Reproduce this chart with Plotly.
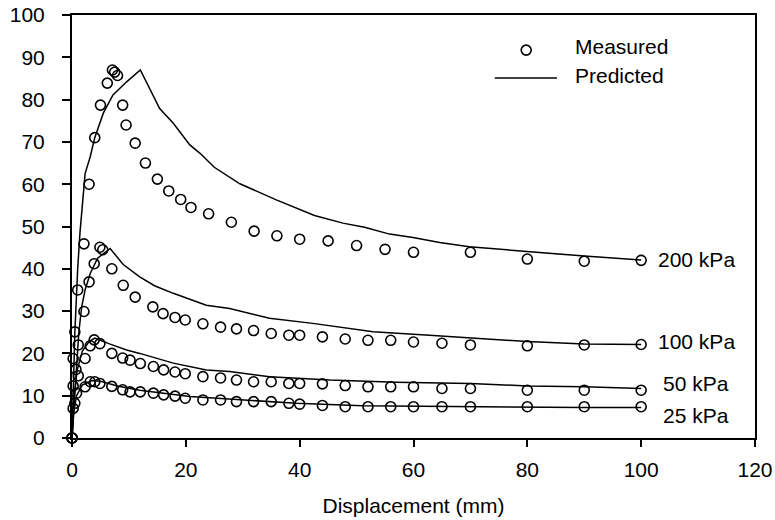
import plotly.graph_objects as go

# ---------------- data ----------------
labels = ["200 kPa", "100 kPa", "50 kPa", "25 kPa"]

m200_x = [0, 0.5, 1.0, 2.1, 3.0, 4.0, 5.0, 6.2, 7.1, 7.5, 8.0, 8.9, 9.5, 11.1, 12.9, 15.0, 17.0, 19.1,
          20.9, 24.0, 28.0, 32.0, 36.0, 40.0, 45.0, 50.0, 55.0, 60.0, 70.0, 80.0, 90.0, 100.0]
m200_y = [0, 25.1, 35.0, 45.9, 60.0, 71.0, 78.7, 83.9, 87.0, 86.5, 85.7, 78.7, 74.0, 69.7, 65.0, 61.2, 58.4, 56.4,
          54.5, 53.0, 51.0, 48.9, 47.8, 47.0, 46.6, 45.5, 44.6, 43.9, 43.9, 42.3, 41.8, 42.0]

m100_x = [0, 0.2, 1.1, 2.1, 3.0, 3.9, 4.9, 5.4, 7.0, 9.0, 11.1, 14.2, 16.0, 18.1, 19.9, 23.0, 26.1, 28.9,
          31.9, 35.0, 38.1, 40.0, 44.0, 48.0, 52.0, 56.0, 60.0, 65.0, 70.0, 80.0, 90.0, 100.0]
m100_y = [0, 18.8, 22.0, 29.9, 36.9, 41.2, 45.1, 44.5, 40.0, 36.1, 33.3, 31.0, 29.4, 28.5, 27.9, 27.0, 26.2, 25.8,
          25.4, 24.7, 24.3, 24.3, 23.9, 23.4, 23.1, 23.1, 22.7, 22.4, 22.0, 21.8, 22.0, 22.1]

m50_x = [0, 0.2, 0.7, 1.1, 2.3, 3.2, 3.9, 4.9, 7.0, 8.9, 10.2, 12.0, 14.3, 16.1, 18.1, 19.9, 23.0, 26.1,
         28.9, 31.9, 35.0, 38.1, 40.0, 44.0, 48.0, 52.0, 56.0, 60.0, 65.0, 70.0, 80.0, 90.0, 100.0]
m50_y = [0, 12.3, 16.2, 14.7, 18.8, 21.8, 23.2, 22.3, 20.0, 18.9, 18.4, 17.6, 16.9, 16.1, 15.6, 15.2, 14.5, 14.2,
         13.7, 13.3, 13.3, 12.9, 12.9, 12.8, 12.4, 12.1, 12.1, 12.1, 11.7, 11.7, 11.3, 11.3, 11.3]

m25_x = [0, 0.2, 0.5, 0.8, 2.3, 3.2, 4.0, 4.9, 7.0, 8.9, 10.2, 12.0, 14.3, 16.1, 18.1, 19.9, 23.0, 26.1,
         28.9, 31.9, 35.0, 38.1, 40.0, 44.0, 48.0, 52.0, 56.0, 60.0, 65.0, 70.0, 80.0, 90.0, 100.0]
m25_y = [0, 7.0, 8.2, 10.6, 12.1, 13.3, 13.3, 12.9, 12.2, 11.4, 10.9, 10.9, 10.6, 10.2, 9.9, 9.4, 9.0, 9.0,
         8.6, 8.6, 8.6, 8.2, 8.0, 7.7, 7.4, 7.4, 7.4, 7.4, 7.4, 7.4, 7.4, 7.4, 7.4]

p200_x = [0, 0.5, 1.0, 1.4, 2.3, 3.2, 4.0, 5.5, 7.2, 9.6, 12.0, 13.7, 15.4, 17.8, 20.7, 22.5, 25.0, 29.5,
          35.9, 42.6, 47.6, 51.4, 55.8, 59.9, 64.6, 69.8, 75.0, 80.0, 90.0, 100.0]
p200_y = [0, 25.0, 40.0, 48.5, 62.5, 66.5, 71.0, 76.8, 81.1, 84.2, 87.0, 82.3, 77.9, 74.4, 69.3, 67.3, 64.0, 60.1,
          56.3, 52.6, 50.8, 49.8, 48.2, 47.4, 46.2, 45.2, 44.6, 44.2, 43.0, 42.1]

p100_x = [0, 0.7, 1.2, 1.7, 2.3, 3.2, 4.5, 6.7, 9.0, 11.9, 14.5, 17.8, 23.6, 27.7, 34.7, 42.3, 52.9, 62.8,
          70.0, 80.0, 90.0, 100.0]
p100_y = [0, 15.0, 25.0, 31.0, 35.0, 38.9, 42.5, 44.8, 41.0, 38.1, 36.0, 34.2, 31.4, 30.6, 28.3, 27.1, 25.1, 24.3,
          23.6, 22.8, 22.2, 22.1]

p50_x = [0, 0.4, 0.9, 1.8, 3.0, 4.0, 6.7, 9.6, 11.9, 17.8, 23.6, 27.7, 34.7, 45.3, 56.9, 66.0, 70.0, 80.0,
         90.0, 100.0]
p50_y = [0, 10.0, 16.0, 20.5, 22.8, 23.6, 22.2, 20.8, 20.0, 17.7, 16.1, 15.7, 14.5, 13.7, 13.2, 13.1, 12.9, 12.3,
         12.1, 11.7]

p25_x = [0, 0.3, 0.8, 1.8, 3.5, 5.0, 8.0, 11.9, 20.7, 29.5, 39.4, 51.1, 60.0, 69.5, 80.0, 90.0, 100.0]
p25_y = [0, 6.0, 10.0, 12.5, 13.6, 13.4, 12.3, 11.3, 9.8, 9.0, 8.2, 7.6, 7.5, 7.4, 7.2, 7.2, 7.2]

# label anchor positions (data coords)
label_x = [102.6, 102.6, 103.5, 103.5]
label_y = [42.2, 22.9, 12.8, 5.4]

measured = [(m200_x, m200_y), (m100_x, m100_y), (m50_x, m50_y), (m25_x, m25_y)]
predicted = [(p200_x, p200_y), (p100_x, p100_y), (p50_x, p50_y), (p25_x, p25_y)]

FONT = "Liberation Sans, Arial, sans-serif"
FS = 21

fig = go.Figure()
for px, py in predicted:
    fig.add_trace(go.Scatter(x=px, y=py, mode="lines", line=dict(color="black", width=1.5),
                             showlegend=False, cliponaxis=False, hoverinfo="skip"))
for mx, my in measured:
    fig.add_trace(go.Scatter(x=mx, y=my, mode="markers",
                             marker=dict(symbol="circle-open", size=10, color="black",
                                         line=dict(width=1.6, color="black")),
                             showlegend=False, cliponaxis=False))

for lab, lx, ly in zip(labels, label_x, label_y):
    fig.add_annotation(x=lx, y=ly, text=lab, showarrow=False, xanchor="left", yanchor="middle",
                       font=dict(family=FONT, size=FS, color="black"))

# manual legend (paper coordinates)
fig.add_shape(type="circle", xref="paper", yref="paper", xsizemode="pixel", ysizemode="pixel",
              xanchor=0.665, yanchor=0.917, x0=-5, x1=5, y0=-5, y1=5,
              line=dict(color="black", width=1.6))
fig.add_shape(type="line", xref="paper", yref="paper", x0=0.619, x1=0.710, y0=0.851, y1=0.851,
              line=dict(color="black", width=1.5))
fig.add_annotation(xref="paper", yref="paper", x=0.733, y=0.925, text="Measured", showarrow=False,
                   xanchor="left", yanchor="middle", font=dict(family=FONT, size=FS, color="black"))
fig.add_annotation(xref="paper", yref="paper", x=0.733, y=0.856, text="Predicted", showarrow=False,
                   xanchor="left", yanchor="middle", font=dict(family=FONT, size=FS, color="black"))

fig.update_layout(
    width=775, height=520,
    margin=dict(l=72, r=20, t=15, b=82),
    plot_bgcolor="white", paper_bgcolor="white",
    font=dict(family=FONT, size=FS, color="black"),
    xaxis=dict(range=[0, 120], dtick=20, tick0=0, showgrid=False, zeroline=False,
               showline=True, linecolor="black", linewidth=2, mirror=True,
               ticks="outside", ticklen=7, tickwidth=2, tickcolor="black",
               ticklabelstandoff=5, automargin=False,
               title=dict(text="Displacement (mm)", standoff=18,
                          font=dict(family=FONT, size=FS, color="black"))),
    yaxis=dict(range=[0, 100], dtick=10, tick0=0, showgrid=False, zeroline=False,
               showline=True, linecolor="black", linewidth=2, mirror=True,
               ticks="outside", ticklen=8, tickwidth=2, tickcolor="black",
               ticklabelstandoff=13, automargin=False),
)

fig.write_html("out.html")
